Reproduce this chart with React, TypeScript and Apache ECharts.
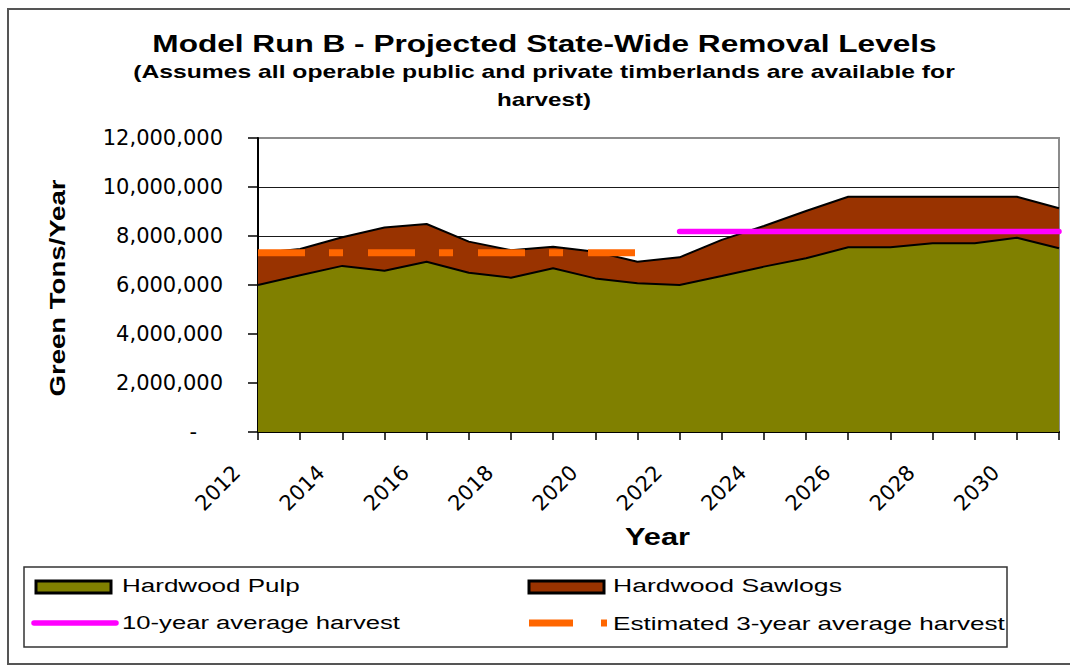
import React, { useEffect, useRef } from "react";
import * as echarts from "echarts";

// Harvest years on the category axis
const years = [
  "2012", "2013", "2014", "2015", "2016", "2017", "2018", "2019", "2020", "2021",
  "2022", "2023", "2024", "2025", "2026", "2027", "2028", "2029", "2030", "2031",
];

// Green tons per year, stacked areas
const hardwoodPulp = [
  6000000, 6400000, 6780000, 6580000, 6950000, 6500000, 6300000, 6680000, 6270000, 6070000,
  6000000, 6370000, 6750000, 7090000, 7540000, 7540000, 7700000, 7700000, 7930000, 7500000,
];
const hardwoodSawlogs = [
  1300000, 1070000, 1170000, 1770000, 1540000, 1270000, 1120000, 880000, 1090000, 880000,
  1130000, 1470000, 1660000, 1930000, 2060000, 2060000, 1900000, 1900000, 1670000, 1630000,
];

// Reference harvest levels
const estimatedThreeYearAverage = [
  7320000, 7320000, 7320000, 7320000, 7320000, 7320000, 7320000, 7320000, 7320000, 7320000,
  null, null, null, null, null, null, null, null, null, null,
];
const tenYearAverage = [
  null, null, null, null, null, null, null, null, null, null,
  8180000, 8180000, 8180000, 8180000, 8180000, 8180000, 8180000, 8180000, 8180000, 8180000,
];

// Value axis
const yMin = 0;
const yMax = 12000000;
const yStep = 2000000;

const titleText = "Model Run B - Projected State-Wide Removal Levels";
const subtitleLines = [
  "(Assumes all operable public and private timberlands are available for",
  "harvest)",
];
const yAxisName = "Green Tons/Year";
const xAxisName = "Year";
const legendNames = [
  "Hardwood Pulp",
  "Hardwood Sawlogs",
  "10-year average harvest",
  "Estimated 3-year average harvest",
];

const SANS = '"Liberation Sans", Arial, sans-serif';
const TICK_FONT = '"DejaVu Sans", "Liberation Sans", sans-serif';

const COLORS = {
  pulp: "#808000",
  sawlogs: "#993300",
  tenYear: "#ff00ff",
  threeYear: "#ff6600",
};

function makeStretcher() {
  const ctx = document.createElement("canvas").getContext("2d");
  return (text: string, size: number, weight: string, width: number) => {
    if (!ctx) return 1;
    ctx.font = `${weight} ${size}px ${SANS}`;
    const w = ctx.measureText(text).width;
    return w > 0 ? width / w : 1;
  };
}

export default function App() {
  const ref = useRef<HTMLDivElement>(null);

  useEffect(() => {
    if (!ref.current) return;
    const chart = echarts.init(ref.current, undefined, { renderer: "svg" });
    const stretch = makeStretcher();

    const text = (
      str: string,
      x: number,
      y: number,
      size: number,
      weight: string,
      width: number,
      align: string = "center",
      rotation = 0
    ) => ({
      type: "text",
      x,
      y,
      rotation,
      scaleX: stretch(str, size, weight, width),
      style: {
        text: str,
        fontSize: size,
        fontWeight: weight,
        fontFamily: SANS,
        fill: "#000",
        textAlign: align,
        textVerticalAlign: "middle",
        align,
        verticalAlign: "middle",
      },
    });

    const graphic: any[] = [
      // chart frame
      {
        type: "rect",
        shape: { x: 8, y: 9, width: 1090, height: 655 },
        style: { fill: "none", stroke: "#555", lineWidth: 2 },
      },
      text(titleText, 544.5, 44, 24, "bold", 785),
      text(subtitleLines[0], 544, 72, 18, "bold", 822),
      text(subtitleLines[1], 544, 100, 18, "bold", 94),
      text(yAxisName, 57, 288, 22, "bold", 217, "center", Math.PI / 2),
      text(xAxisName, 657.5, 537, 24, "bold", 65),
      // legend box
      {
        type: "rect",
        shape: { x: 24, y: 567, width: 983, height: 80 },
        style: { fill: "#fff", stroke: "#333", lineWidth: 1.5 },
      },
      {
        type: "rect",
        shape: { x: 36, y: 581, width: 75, height: 12 },
        style: { fill: COLORS.pulp, stroke: "#000", lineWidth: 3 },
      },
      {
        type: "rect",
        shape: { x: 529, y: 581, width: 75, height: 12 },
        style: { fill: COLORS.sawlogs, stroke: "#000", lineWidth: 3 },
      },
      {
        type: "line",
        shape: { x1: 34, y1: 623, x2: 116, y2: 623 },
        style: { stroke: COLORS.tenYear, lineWidth: 5.5, lineCap: "round" },
      },
      {
        type: "line",
        shape: { x1: 529, y1: 623, x2: 573, y2: 623 },
        style: { stroke: COLORS.threeYear, lineWidth: 7 },
      },
      {
        type: "line",
        shape: { x1: 601, y1: 623, x2: 607, y2: 623 },
        style: { stroke: COLORS.threeYear, lineWidth: 7 },
      },
      text(legendNames[0], 122, 585, 19, "normal", 178, "left"),
      text(legendNames[1], 613, 585, 19, "normal", 229, "left"),
      text(legendNames[2], 122, 623, 19, "normal", 278, "left"),
      text(legendNames[3], 613, 623, 19, "normal", 392, "left"),
    ];

    chart.setOption({
      animation: false,
      backgroundColor: "#fff",
      grid: {
        left: 258,
        right: 11,
        top: 138,
        bottom: 235,
        show: true,
        backgroundColor: "#fff",
        borderColor: "#8c8c8c",
        borderWidth: 2,
      },
      xAxis: {
        type: "category",
        data: years,
        boundaryGap: false,
        axisLine: { show: true, lineStyle: { color: "#000", width: 2 } },
        axisTick: { show: true, interval: 0, length: 8, lineStyle: { color: "#000", width: 1.5 } },
        axisLabel: {
          interval: 1,
          rotate: 45,
          margin: 16,
          padding: [0, 30, 0, 0],
          color: "#000",
          fontSize: 21,
          fontFamily: TICK_FONT,
        },
        splitLine: { show: false },
      },
      yAxis: {
        type: "value",
        min: yMin,
        max: yMax,
        interval: yStep,
        axisLine: { show: true, lineStyle: { color: "#000", width: 2 } },
        axisTick: { show: true, length: 10, lineStyle: { color: "#000", width: 1.5 } },
        axisLabel: {
          margin: 35,
          color: "#000",
          fontSize: 21,
          fontFamily: TICK_FONT,
          formatter: (v: number) => (v === 0 ? "{z|-}" : v.toLocaleString("en-US")),
          rich: {
            z: { fontSize: 21, fontFamily: TICK_FONT, color: "#000", padding: [0, 26, 0, 0] },
          },
        },
        splitLine: {
          show: true,
          showMinLine: false,
          showMaxLine: false,
          lineStyle: { color: "#1a1a1a", width: 1 },
        },
      },
      series: [
        {
          name: legendNames[0],
          type: "line",
          stack: "removals",
          data: hardwoodPulp,
          symbol: "none",
          lineStyle: { color: "#000", width: 2 },
          areaStyle: { color: COLORS.pulp, opacity: 1 },
          itemStyle: { color: COLORS.pulp },
        },
        {
          name: legendNames[1],
          type: "line",
          stack: "removals",
          data: hardwoodSawlogs,
          symbol: "none",
          lineStyle: { color: "#000", width: 2 },
          areaStyle: { color: COLORS.sawlogs, opacity: 1 },
          itemStyle: { color: COLORS.sawlogs },
        },
        {
          name: legendNames[2],
          type: "line",
          data: tenYearAverage,
          symbol: "none",
          clip: false,
          lineStyle: { color: COLORS.tenYear, width: 5.5, cap: "round" },
          itemStyle: { color: COLORS.tenYear },
        },
        {
          name: legendNames[3],
          type: "line",
          data: estimatedThreeYearAverage,
          symbol: "none",
          clip: false,
          lineStyle: { color: COLORS.threeYear, width: 7, type: [47, 24, 14, 25], cap: "butt" },
          itemStyle: { color: COLORS.threeYear },
        },
      ],
      graphic,
    });

    return () => chart.dispose();
  }, []);

  return (
    <div
      ref={ref}
      style={{ position: "absolute", left: 0, top: 0, width: 1070, height: 667 }}
    />
  );
}
